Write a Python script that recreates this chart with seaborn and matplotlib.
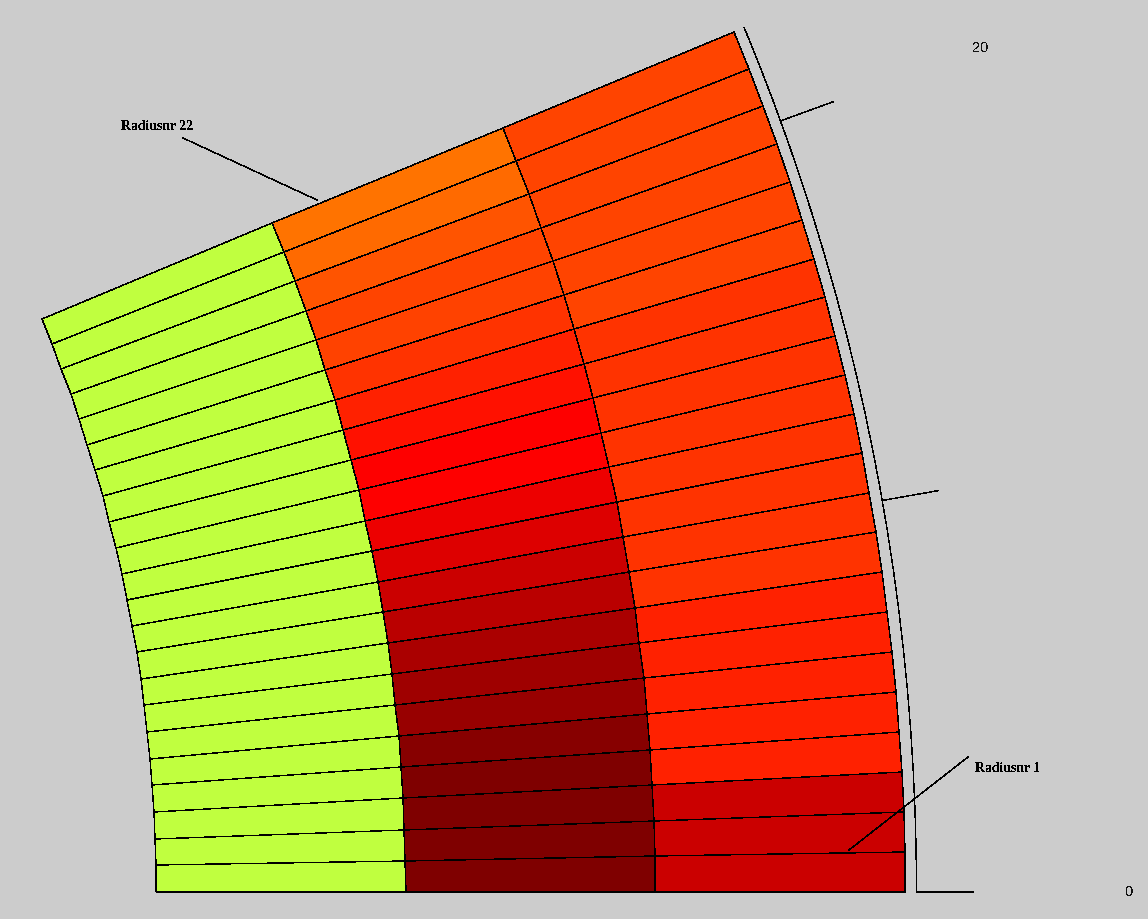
import numpy as np
import pandas as pd
import seaborn as sns
import matplotlib.pyplot as plt
from matplotlib.colors import LinearSegmentedColormap
from matplotlib.transforms import Transform

# radiusnr 1..22, bottom to top, value on the jet-like scale 0..1
inner_layer = [0.5625] * 22
middle_layer = [1.0, 1.0, 1.0, 1.0, 0.992, 0.975, 0.968, 0.958, 0.942, 0.925, 0.908,
                0.892, 0.875, 0.875, 0.858, 0.842, 0.825, 0.81, 0.808, 0.792, 0.771, 0.7625]
outer_layer = [0.925, 0.925, 0.925,
               0.842, 0.842, 0.842, 0.842, 0.842,
               0.825, 0.825, 0.825, 0.825, 0.825, 0.825, 0.825, 0.825,
               0.808, 0.808, 0.808, 0.808, 0.808, 0.808]
layer_edges = [1494, 1743.5, 1993, 2243]
sector_angle = 22.55

scale_radius = 2254.5
tick_radius = 2311
label_radius = 2467
tick_angles = [0, 10, 20]
tick_labels = {0: '0', 20: '20'}

centre_x, centre_y = -1338, 892
bg = '#cccccc'
thin = 0.3


def to_pixels(radius, angle):
    a = np.radians(angle)
    return centre_x + radius * np.cos(a), centre_y - radius * np.sin(a)


class SectorTransform(Transform):
    # heatmap cell coordinates (layer, row) to positions on the sector
    input_dims = 2
    output_dims = 2

    def transform_non_affine(self, values):
        values = np.asarray(values, dtype=float)
        radius = np.interp(values[:, 0], range(len(layer_edges)), layer_edges)
        angle = values[:, 1] * sector_angle / len(inner_layer)
        return np.column_stack(to_pixels(radius, angle))


sns.set_theme(style='white', rc={'text.antialiased': False})

cells = pd.DataFrame({'inner': inner_layer, 'middle': middle_layer, 'outer': outer_layer},
                     index=range(1, len(inner_layer) + 1))
jet = LinearSegmentedColormap.from_list('jet64', [(0, '#00007f'), (1 / 8, '#0000ff'), (3 / 8, '#00ffff'),
                                                  (5 / 8, '#ffff00'), (7 / 8, '#ff0000'), (1, '#7f0000')], N=1024)

fig = plt.figure(figsize=(11.48, 9.19), dpi=100, facecolor=bg)
ax = fig.add_axes([0, 0, 1, 1])

sns.heatmap(cells, ax=ax, cmap=jet, vmin=0, vmax=1, cbar=False, xticklabels=False, yticklabels=False,
            linewidths=thin, linecolor='black', antialiased=False,
            transform=SectorTransform() + ax.transData)

ax.set_xlim(0, 1148)
ax.set_ylim(919, 0)
ax.set_axis_off()
ax.set_facecolor(bg)

# scale arc outside the sector
row_angles = np.arange(len(inner_layer) + 1) * sector_angle / len(inner_layer)
arc_x, arc_y = to_pixels(scale_radius, row_angles)
sns.lineplot(x=arc_x, y=arc_y, ax=ax, color='black', linewidth=thin, sort=False,
             estimator=None, antialiased=False)

for angle in tick_angles:
    tick_x, tick_y = to_pixels(np.array([scale_radius, tick_radius]), angle)
    ax.plot(tick_x, tick_y, color='black', lw=thin, antialiased=False)
    if angle in tick_labels:
        lx, ly = to_pixels(label_radius, angle)
        ax.text(lx, ly, tick_labels[angle], ha='center', va='center', fontsize=10.5,
                family='Liberation Sans', color='#111111')

# leaders for the two labelled radii
ax.plot([183, 317], [138, 200], color='black', lw=thin, antialiased=False)
ax.plot([968, 849], [757, 850], color='black', lw=thin, antialiased=False)
ax.text(121, 126, 'Radiusnr 22', ha='left', va='center', fontsize=9.9, fontweight='bold',
        family='Liberation Serif', color='black')
ax.text(975, 768, 'Radiusnr 1', ha='left', va='center', fontsize=9.9, fontweight='bold',
        family='Liberation Serif', color='black')

fig.savefig('out.png', dpi=100, facecolor=bg)
